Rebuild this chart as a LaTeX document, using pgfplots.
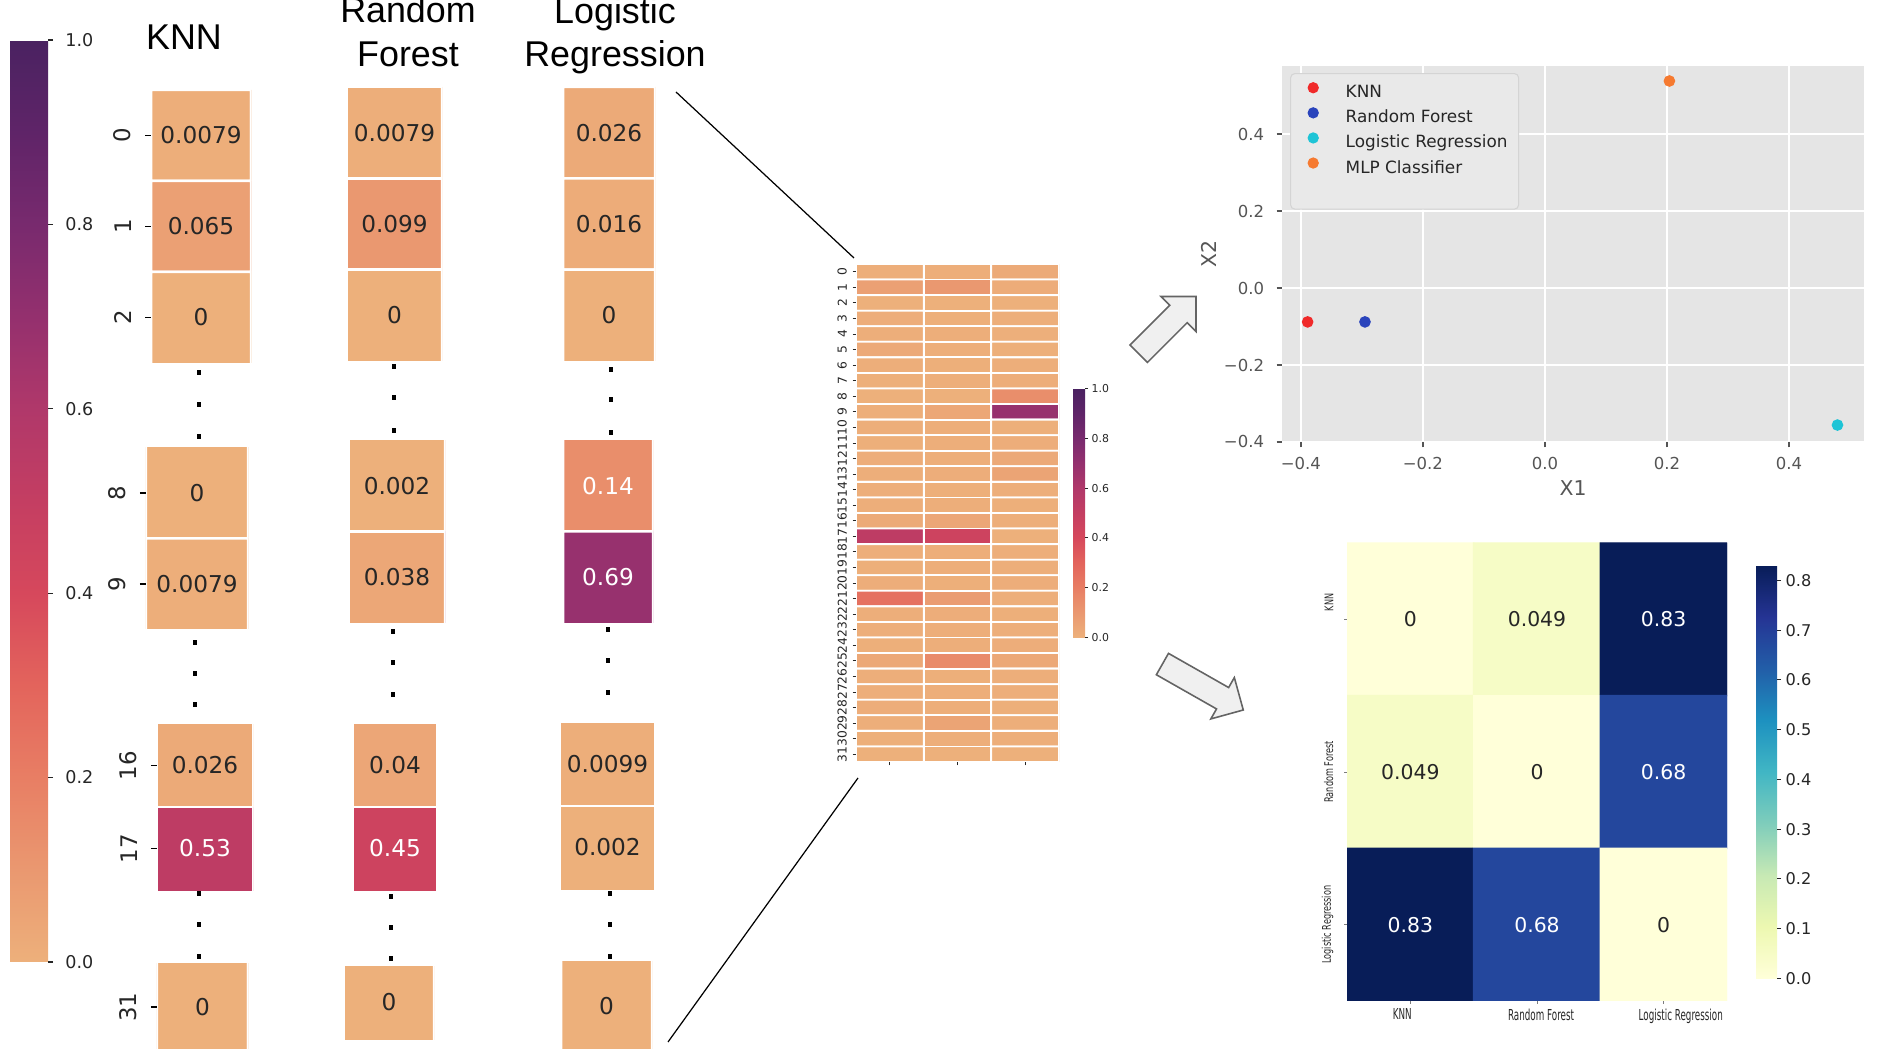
\documentclass[border=0pt]{standalone}
\usepackage{fontspec}
\setmainfont{DejaVu Sans}
\newfontfamily\arial{Liberation Sans}
\usepackage{pgfplots}
\pgfplotsset{compat=1.18}
\usepackage{pgfplotstable}
\usetikzlibrary{shapes.arrows}

\newcommand\fsz[1]{\fontsize{#1}{#1}\selectfont}

\definecolor{txtdark}{RGB}{38,38,38}
\definecolor{ggbg}{RGB}{229,229,229}
\definecolor{ggtick}{RGB}{85,85,85}
\definecolor{legbg}{RGB}{233,233,233}
\definecolor{legdraw}{RGB}{212,212,212}
\definecolor{knnred}{RGB}{240,42,42}
\definecolor{rfblue}{RGB}{42,68,188}
\definecolor{lrcyan}{RGB}{30,196,214}
\definecolor{mlporange}{RGB}{246,122,48}
\definecolor{arrowline}{RGB}{100,100,100}
\definecolor{arrowfill}{RGB}{240,240,240}

% white text on the darker cells
\newcommand\celllabel[1]{\pgfmathtruncatemacro\dark{#1>0.12}%
  \ifnum\dark=1 \textcolor{white}{#1}\else\textcolor{txtdark}{#1}\fi}

\pgfplotsset{
  colormap={flare}{rgb255=(237,176,123) rgb255=(234,152,112) rgb255=(232,126,100)
    rgb255=(227,100,92) rgb255=(214,72,92) rgb255=(196,62,98) rgb255=(176,56,106)
    rgb255=(148,48,110) rgb255=(120,42,110) rgb255=(95,36,104) rgb255=(74,34,97)},
  colormap={ylgnbu}{rgb255=(255,255,217) rgb255=(237,248,177) rgb255=(199,233,180)
    rgb255=(127,205,187) rgb255=(65,182,196) rgb255=(29,145,192) rgb255=(34,94,168)
    rgb255=(37,52,148) rgb255=(8,29,88)},
  every axis/.append style={/pgf/number format/assume math mode=true},
  % one block of cells of the left part
  cellax/.style={scale only axis, anchor=north west, y dir=reverse,
    axis line style={draw=none}, xtick=\empty, ytick=\empty, ytick pos=left,
    colormap name=flare, point meta min=0, point meta max=1,
    tick align=outside, major tick length=0.6mm,
    ytick style={draw=black, line width=0.5pt},
    yticklabel style={xshift=-1.3mm, rotate=90, anchor=south, inner sep=0pt,
      font=\fsz{6.5}, text=txtdark}},
  cellfill/.style={matrix plot, mesh/cols=3, point meta=explicit, shader=faceted,
    faceted color=white, draw=white, line width=0.25mm},
  celltxt/.style={only marks, mark=none, point meta=explicit symbolic,
    nodes near coords={\celllabel{\pgfplotspointmeta}},
    every node near coord/.append style={anchor=center, font=\fsz{6.6}, inner sep=0pt}},
}

% the rows shown on the left: column (0 KNN, 1 RF, 2 LR), row, value
\pgfplotstableread{
c r v
0 0 0.0079
1 0 0.0079
2 0 0.026
0 1 0.065
1 1 0.099
2 1 0.016
0 2 0
1 2 0
2 2 0
0 8 0
1 8 0.002
2 8 0.14
0 9 0.0079
1 9 0.038
2 9 0.69
0 16 0.026
1 16 0.04
2 16 0.0099
0 17 0.53
1 17 0.45
2 17 0.002
0 31 0
1 31 0
2 31 0
}\vals

% #1 xmin, #2 xmax, #3 left, #4 top, #5 width, #6 height (mm), #7 ymin, #8 ymax, #9 extra
\newcommand\blk[9]{%
\begin{axis}[cellax, xmin=#1, xmax=#2, at={(#3mm,-#4mm)}, width=#5mm, height=#6mm,
  ymin=#7, ymax=#8, #9]
\addplot[cellfill] table[x=c, y=r, meta=v] {\vals};
\addplot[celltxt, restrict x to domain=#1:#2, restrict y to domain=#7:#8]
  table[x=c, y=r, meta=v] {\vals};
\end{axis}}

\newcommand\vd[4]{\foreach \yy in {#2,#3,#4}
  {\fill[shift={(#1mm,-\yy mm)}] (-0.2mm,-0.25mm) rectangle (0.2mm,0.25mm);}}

\begin{document}
\begin{tikzpicture}

% ---------- left colour bar
\begin{axis}[hide axis, scale only axis, anchor=north west, at={(1.0mm,-4.0mm)},
  width=3.8mm, height=92.2mm, xmin=0, xmax=1, ymin=0, ymax=1,
  colormap name=flare, point meta min=0, point meta max=1, colorbar,
  colorbar style={at={(parent axis.north west)}, anchor=north west, xshift=-3mm,
    scale only axis, width=3.8mm, height=92.2mm, axis line style={draw=none},
    ytick={0,0.2,0.4,0.6,0.8,1}, ytick pos=right,
    yticklabel={\pgfmathprintnumber[fixed,fixed zerofill,precision=1]{\tick}},
    yticklabel style={font=\fsz{5}, text=txtdark},
    tick align=outside, major tick length=0.5mm,
    ytick style={draw=txtdark, line width=0.3pt}}]
\addplot[draw=none, mark=none] coordinates {(0,0)};
\end{axis}

% ---------- KNN blocks
\blk{-0.5}{0.5}{15.1}{9.0}{10.0}{27.3}{-0.5}{2.5}{ytick={0,1,2}}
\blk{-0.5}{0.5}{14.6}{44.8}{10.2}{18.1}{7.5}{9.5}{ytick={8,9}}
\blk{-0.5}{0.5}{15.7}{72.4}{9.6}{16.6}{15.5}{17.5}{ytick={16,17}}
\blk{-0.5}{0.5}{15.7}{96.3}{9.1}{8.8}{30.5}{31.5}{ytick={31}}
% ---------- Random Forest blocks
\blk{0.5}{1.5}{34.7}{8.7}{9.5}{27.4}{-0.5}{2.5}{}
\blk{0.5}{1.5}{34.9}{44.1}{9.6}{18.1}{7.5}{9.5}{}
\blk{0.5}{1.5}{35.3}{72.4}{8.4}{16.6}{15.5}{17.5}{}
\blk{0.5}{1.5}{34.4}{96.6}{9.0}{7.3}{30.5}{31.5}{}
% ---------- Logistic Regression blocks
\blk{1.5}{2.5}{56.3}{8.7}{9.2}{27.4}{-0.5}{2.5}{}
\blk{1.5}{2.5}{56.3}{44.1}{9.0}{18.1}{7.5}{9.5}{}
\blk{1.5}{2.5}{56.0}{72.3}{9.5}{16.6}{15.5}{17.5}{}
\blk{1.5}{2.5}{56.1}{96.1}{9.1}{9.0}{30.5}{31.5}{}

% titles and ellipses
\begin{scope}[every node/.style={font=\arial\fsz{10.2}, anchor=base, inner sep=0pt}]
\node at (18.4mm,-5.0mm) {KNN};
\node at (40.8mm,-2.3mm) {Random};
\node at (40.8mm,-6.7mm) {Forest};
\node at (61.5mm,-2.4mm) {Logistic};
\node at (61.5mm,-6.7mm) {Regression};
\end{scope}
\vd{19.9}{37.3}{40.5}{43.7} \vd{19.5}{64.3}{67.4}{70.5} \vd{19.9}{89.4}{92.5}{95.7}
\vd{39.4}{36.7}{39.8}{43.1} \vd{39.3}{63.2}{66.3}{69.5} \vd{39.1}{89.7}{92.8}{95.9}
\vd{61.1}{37.0}{40.0}{43.3} \vd{60.8}{63.0}{66.1}{69.3} \vd{61.0}{89.4}{92.5}{95.7}

\draw[line width=0.35pt] (67.6mm,-9.2mm) -- (85.4mm,-25.8mm);
\draw[line width=0.35pt] (66.8mm,-104.2mm) -- (85.8mm,-77.8mm);

% ---------- middle heatmap, all 32 rows
\begin{axis}[scale only axis, anchor=north west, at={(85.6mm,-26.4mm)},
  width=20.3mm, height=49.8mm,
  xmin=-0.5, xmax=2.5, ymin=-0.5, ymax=31.5, y dir=reverse,
  axis line style={draw=none},
  xtick={0,1,2}, xticklabels={,,}, ytick={0,...,31},
  xtick pos=bottom, ytick pos=left,
  tick align=outside, major tick length=0.35mm,
  tick style={draw=txtdark, line width=0.25pt},
  yticklabel style={xshift=-0.5mm, rotate=90, anchor=south, inner sep=0pt,
    font=\fsz{3.5}, text=txtdark},
  colormap name=flare, point meta min=0, point meta max=1,
  colorbar, colorbar style={at={(parent axis.east)}, anchor=west, xshift=-1.6mm,
    scale only axis, width=1.2mm, height=24.9mm, axis line style={draw=none},
    ytick={0,0.2,0.4,0.6,0.8,1}, ytick pos=right,
    yticklabel={\pgfmathprintnumber[fixed,fixed zerofill,precision=1]{\tick}},
    yticklabel style={font=\fsz{3.1}, text=txtdark, inner sep=0.3mm},
    tick align=outside, major tick length=0.3mm,
    ytick style={draw=txtdark, line width=0.25pt}}]
\addplot[matrix plot, mesh/cols=3, point meta=explicit, shader=faceted,
  faceted color=white, draw=white, line width=0.18mm] coordinates {
(0,0)[0.0079] (1,0)[0.0079] (2,0)[0.026]
(0,1)[0.065] (1,1)[0.099] (2,1)[0.016]
(0,2)[0] (1,2)[0] (2,2)[0]
(0,3)[0.012] (1,3)[0.006] (2,3)[0.010]
(0,4)[0.008] (1,4)[0.010] (2,4)[0.004]
(0,5)[0.030] (1,5)[0.008] (2,5)[0.006]
(0,6)[0.010] (1,6)[0.006] (2,6)[0.008]
(0,7)[0.006] (1,7)[0.010] (2,7)[0.012]
(0,8)[0] (1,8)[0.002] (2,8)[0.14]
(0,9)[0.0079] (1,9)[0.038] (2,9)[0.69]
(0,10)[0.010] (1,10)[0.008] (2,10)[0.006]
(0,11)[0.006] (1,11)[0.010] (2,11)[0.012]
(0,12)[0.012] (1,12)[0.008] (2,12)[0.030]
(0,13)[0.010] (1,13)[0.012] (2,13)[0.050]
(0,14)[0.008] (1,14)[0.006] (2,14)[0.010]
(0,15)[0.010] (1,15)[0.010] (2,15)[0.006]
(0,16)[0.026] (1,16)[0.04] (2,16)[0.0099]
(0,17)[0.53] (1,17)[0.45] (2,17)[0.002]
(0,18)[0.010] (1,18)[0.008] (2,18)[0.010]
(0,19)[0.006] (1,19)[0.010] (2,19)[0.008]
(0,20)[0.012] (1,20)[0.006] (2,20)[0.012]
(0,21)[0.25] (1,21)[0.085] (2,21)[0.010]
(0,22)[0.008] (1,22)[0.012] (2,22)[0.006]
(0,23)[0.010] (1,23)[0.008] (2,23)[0.010]
(0,24)[0.006] (1,24)[0.010] (2,24)[0.012]
(0,25)[0.035] (1,25)[0.15] (2,25)[0.035]
(0,26)[0.010] (1,26)[0.006] (2,26)[0.008]
(0,27)[0.008] (1,27)[0.010] (2,27)[0.010]
(0,28)[0.012] (1,28)[0.008] (2,28)[0.006]
(0,29)[0.010] (1,29)[0.050] (2,29)[0.010]
(0,30)[0.006] (1,30)[0.010] (2,30)[0.008]
(0,31)[0] (1,31)[0] (2,31)[0]
};
\end{axis}

% arrows
\node[single arrow, draw=arrowline, fill=arrowfill, line width=0.45pt, inner xsep=0pt,
  inner ysep=1.15mm, minimum height=8.1mm, single arrow head extend=1.25mm, rotate=45]
  at (116.3mm,-32.95mm) {};
\node[single arrow, draw=arrowline, fill=arrowfill, line width=0.45pt, inner xsep=0pt,
  inner ysep=1.15mm, minimum height=9.3mm, single arrow head extend=1.15mm, rotate=-29.6]
  at (119.75mm,-68.4mm) {};

% ---------- scatter of the models
\begin{axis}[scale only axis, anchor=north west, at={(128.2mm,-6.6mm)},
  width=58.2mm, height=37.6mm,
  xmin=-0.431, xmax=0.523, ymin=-0.4, ymax=0.577,
  axis background/.style={fill=ggbg}, axis line style={draw=none},
  grid=major, grid style={white, line width=0.4pt},
  xtick pos=bottom, ytick pos=left,
  tick align=outside, major tick length=0.55mm,
  tick style={draw=ggtick, line width=0.35pt},
  xtick={-0.4,-0.2,0,0.2,0.4}, xticklabels={−0.4,−0.2,0.0,0.2,0.4},
  ytick={-0.4,-0.2,0,0.2,0.4}, yticklabels={−0.4,−0.2,0.0,0.2,0.4},
  ticklabel style={font=\fsz{4.7}, text=ggtick},
  xticklabel style={yshift=0.3mm},
  xlabel={X1}, ylabel={X2},
  every axis x label/.style={at={(axis description cs:0.5,0)}, anchor=center,
    yshift=-4.6mm, font=\fsz{5.8}, text=ggtick},
  every axis y label/.style={at={(axis description cs:0,0.5)}, xshift=-7.3mm,
    rotate=90, anchor=center, font=\fsz{5.8}, text=ggtick},
  legend cell align=left,
  legend style={at={(0.014,0.981)}, anchor=north west, fill=legbg, draw=legdraw,
    line width=0.3pt, rounded corners=0.4mm, font=\fsz{4.8}, text=txtdark,
    inner xsep=1.1mm, inner ysep=0.9mm, row sep=0.6mm, column sep=2.1mm,
    nodes={inner sep=0pt, text height=1.3mm, text depth=0.4mm}},
  legend image code/.code={\path (0mm,0mm) (2.2mm,0mm);
    \draw[#1] plot coordinates {(1.1mm,0.55mm)};}]
\addplot[only marks, mark=*, mark size=1.45pt, color=knnred] coordinates {(-0.389,-0.088)};
\addlegendentry{KNN}
\addplot[only marks, mark=*, mark size=1.45pt, color=rfblue] coordinates {(-0.295,-0.088)};
\addlegendentry{Random Forest}
\addplot[only marks, mark=*, mark size=1.45pt, color=lrcyan] coordinates {(0.4795,-0.356)};
\addlegendentry{Logistic Regression}
\addplot[only marks, mark=*, mark size=1.45pt, color=mlporange] coordinates {(0.204,0.538)};
\addlegendentry{MLP Classifier}
\addlegendimage{empty legend}\addlegendentry{}
\end{axis}

% ---------- distance heatmap between the models
\begin{axis}[scale only axis, anchor=north west, at={(134.7mm,-54.3mm)},
  width=38.0mm, height=45.8mm,
  xmin=-0.5, xmax=2.5, ymin=-0.5, ymax=2.5, y dir=reverse,
  axis line style={draw=none},
  xtick={0,1,2},
  xticklabels={{KNN\kern2.8mm},{\kern1.4mm Random Forest},{\kern5.9mm Logistic Regression}},
  ytick={0,1,2},
  yticklabels={{\kern5mm KNN},{Random Forest},{Logistic Regression}},
  xtick pos=bottom, ytick pos=left,
  tick align=outside, major tick length=0.3mm,
  tick style={draw=txtdark!60, line width=0.25pt},
  xticklabel style={font=\fsz{4.3}, xscale=0.58, text=txtdark, inner sep=0.4mm},
  yticklabel style={xshift=-1.0mm, rotate=90, xscale=0.68, anchor=south, inner sep=0pt,
    font=\fsz{3.4}, text=txtdark},
  colormap name=ylgnbu, point meta min=0, point meta max=0.83,
  colorbar, colorbar style={at={(parent axis.east)}, anchor=west, xshift=-0.1mm,
    scale only axis, width=2.1mm, height=41.3mm, axis line style={draw=none},
    ytick={0,0.1,0.2,0.3,0.4,0.5,0.6,0.7,0.8}, ytick pos=right,
    yticklabel={\pgfmathprintnumber[fixed,fixed zerofill,precision=1]{\tick}},
    yticklabel style={font=\fsz{4.6}, text=txtdark, inner sep=0.4mm},
    tick align=outside, major tick length=0.4mm,
    ytick style={draw=txtdark, line width=0.3pt}}]
\addplot[matrix plot*, mesh/cols=3, point meta=explicit] coordinates {
(0,0)[0] (1,0)[0.049] (2,0)[0.83]
(0,1)[0.049] (1,1)[0] (2,1)[0.68]
(0,2)[0.83] (1,2)[0.68] (2,2)[0]
};
\addplot[only marks, mark=none, point meta=explicit symbolic, nodes near coords,
  every node near coord/.append style={anchor=center, font=\fsz{5.8}, text=txtdark}]
  coordinates {(0,0)[0] (1,0)[0.049] (0,1)[0.049] (1,1)[0] (2,2)[0]};
\addplot[only marks, mark=none, point meta=explicit symbolic, nodes near coords,
  every node near coord/.append style={anchor=center, font=\fsz{5.8}, text=white}]
  coordinates {(2,0)[0.83] (2,1)[0.68] (0,2)[0.83] (1,2)[0.68]};
\end{axis}

\pgfresetboundingbox
\useasboundingbox (0,0) rectangle (188.1mm,-104.9mm);
\end{tikzpicture}
\end{document}
